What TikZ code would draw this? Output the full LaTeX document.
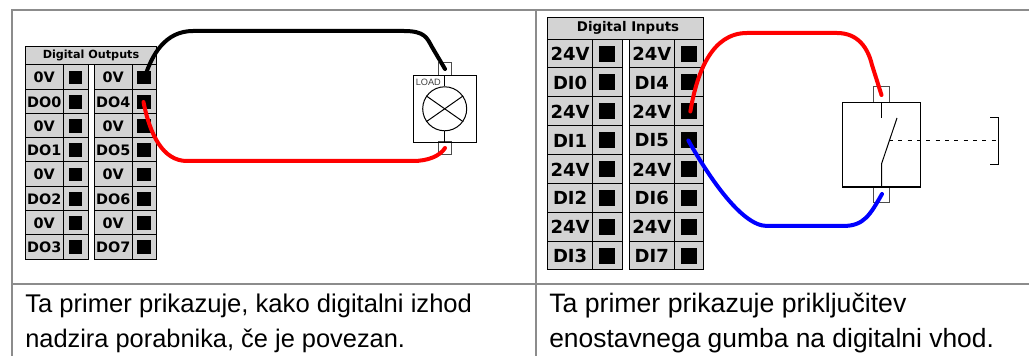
\documentclass[tikz,border=0pt]{standalone}
\usepackage{fontspec}
\setmainfont{Liberation Sans}
\newfontfamily\termfont{DejaVu Sans}
\definecolor{frame}{HTML}{8C8C8C}
\definecolor{term}{HTML}{D3D3D3}
\tikzset{
 x=0.75pt,y=-0.75pt,
 framel/.style={draw=frame,line width=1.5pt},
 cellbox/.style={draw=black,fill=term,line width=0.75pt},
 pinsq/.style={fill=black,draw=none},
 wire/.style={line width=3pt,line cap=round},
 sym/.style={draw=black,line width=0.75pt},
 tabbox/.style={draw=black!70,line width=0.75pt,fill=white},
 capt/.style={anchor=base west,inner sep=0pt,text=black},
 tlA/.style={font=\termfont\bfseries\fontsize{10.8}{10}\selectfont,inner sep=0pt},
 tlB/.style={font=\termfont\bfseries\fontsize{13.5}{13}\selectfont,inner sep=0pt},
}
\newcommand{\termrow}[9]{% x0 x1 x2 y0 y1 text style name pin
 \path[cellbox] (#1,#4) rectangle (#2,#5);
 \path[cellbox] (#2,#4) rectangle (#3,#5);
 \node[#7] (#8) at ({(#1+#2)/2},{(#4+#5)/2}) {#6};
 \node[pinsq,minimum size=#9,inner sep=0pt] (#8p) at ({(#2+#3)/2},{(#4+#5)/2}) {};
}
\begin{document}
\begin{tikzpicture}
\useasboundingbox (0,0) rectangle (1029,356);
\fill[white] (0,0) rectangle (1029,356);
% frame
\draw[framel] (12,356) -- (12,10) -- (1029,10);
\draw[framel] (536,10) -- (536,356);
\draw[framel] (12,284) -- (1029,284);
% left terminal block
\path[cellbox] (25.5,47) rectangle (156,65);
\node[inner sep=0pt,font=\termfont\bfseries\fontsize{8.4}{10}\selectfont] (hdrL) at (91,55.5) {Digital Outputs};
\foreach \i/\a/\b/\ya/\yb in {0/0V/0V/65/90,1/DO0/DO4/90/114,2/0V/0V/114/138,3/DO1/DO5/138/162,4/0V/0V/162/187,5/DO2/DO6/187/211,6/0V/0V/211/235,7/DO3/DO7/235/259.5}{
 \termrow{25.5}{63}{88}{\ya}{\yb}{\a}{tlA}{la\i}{10.4pt}
 \termrow{94.5}{132}{156}{\ya}{\yb}{\b}{tlA}{lb\i}{10.4pt}
}
% right terminal block
\path[cellbox] (547.7,18) rectangle (703.7,39.5);
\node[inner sep=0pt,font=\termfont\bfseries\fontsize{10}{10}\selectfont] (hdrR) at (628,27.5) {Digital Inputs};
\foreach \i/\a/\b/\ya/\yb in {0/24V/24V/39.5/68,1/DI0/DI4/68/97,2/24V/24V/97/126,3/DI1/DI5/126/155,4/24V/24V/155/184,5/DI2/DI6/184/212.5,6/24V/24V/212.5/241.5,7/DI3/DI7/241.5/270}{
 \termrow{547.7}{592.5}{622}{\ya}{\yb}{\a}{tlB}{ra\i}{12pt}
 \termrow{629.5}{674}{703.7}{\ya}{\yb}{\b}{tlB}{rb\i}{12pt}
}
% load
\path[tabbox] (438.5,63) rectangle (451,75.5);
\path[tabbox] (438.5,142) rectangle (451,154.5);
\node[draw=black,line width=0.75pt,minimum width=47pt,minimum height=49.9pt,inner sep=0pt] (load) at (444.7,108.8) {};
\node[draw=black,line width=0.75pt,circle,minimum size=33pt,inner sep=0pt] (lamp) at (444.7,108.8) {};
\node[inner sep=0pt,anchor=west,text=black!75,font=\fontsize{6.9}{7}\selectfont] (loadtxt) at (415.5,82) {LOAD};
\draw[sym] (load.north) -- (lamp.north);
\draw[sym] (lamp.south) -- (load.south);
\draw[sym] (lamp.35) -- (lamp.215);
\draw[sym] (lamp.145) -- (lamp.325);
\coordinate (loadtop) at (445,69);
\coordinate (loadbot) at (445,148);
% switch
\path[tabbox] (873.7,87) rectangle (889.5,102.7);
\path[tabbox] (873.7,187) rectangle (889.5,203);
\node[draw=black,line width=1pt,minimum width=58.2pt,minimum height=63.2pt,inner sep=0pt] (sw) at (881.5,144.9) {};
\coordinate (stubA) at (881.5,117.7);
\coordinate (hinge) at (881.5,164);
\coordinate (blade) at (897,118);
\coordinate (bladeM) at (889,141);
\coordinate (brk) at (998,141);
\draw[sym] (sw.north) -- (stubA);
\draw[sym] (sw.south) -- (hinge) -- (blade);
\draw[sym,dash pattern=on 3pt off 4pt] (bladeM) -- (brk);
\draw[sym] (990,118) -- (998,118) -- (998,164.5) -- (990,164.5);
\coordinate (swtop) at (881.5,95);
\coordinate (swbot) at (882,194);
% wires
\draw[wire,black] (lb0p.center) ++(1,-1) .. controls (152,55) and (165,31) .. (193,31) -- (404,31) .. controls (425,31) and (427,38) .. (432,47) -- (loadtop);
\draw[wire,red] (lb1p.center) ++(-0.5,0) .. controls (150,135) and (163,161) .. (187,161) -- (413,161) .. controls (428,161) and (440,156) .. (loadbot);
\draw[wire,red] (rb2p.center) ++(1.5,0) .. controls (697,72) and (712,33) .. (747,33) -- (837,33) .. controls (858,33) and (868,48) .. (872,65) -- (swtop);
\draw[wire,blue] (rb3p.center) ++(-0.5,0) .. controls (705,170) and (740,226) .. (767,226) -- (843,226) .. controls (864,226) and (870,215) .. (swbot);
% captions
\node[capt,font=\fontsize{19.2}{19}\selectfont] (c1) at (25,312) {Ta primer prikazuje, kako digitalni izhod};
\node[capt,font=\fontsize{19.05}{19}\selectfont] (c2) at (25,348) {nadzira porabnika, če je povezan.};
\node[capt,font=\fontsize{20}{19}\selectfont] (c3) at (549,312) {Ta primer prikazuje priključitev};
\node[capt,font=\fontsize{19.8}{19}\selectfont] (c4) at (549,348) {enostavnega gumba na digitalni vhod.};
\end{tikzpicture}
\end{document}
